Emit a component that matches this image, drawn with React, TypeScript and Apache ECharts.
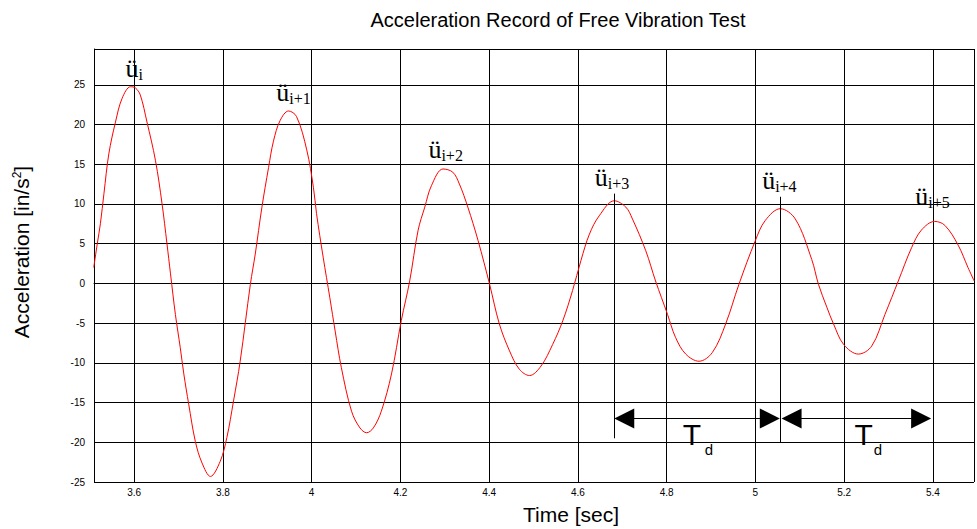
import React, { useEffect, useRef } from 'react';
import * as echarts from 'echarts';

const timeSec = [
  3.509, 3.517, 3.524, 3.532, 3.543, 3.558, 3.573, 3.592, 3.603, 3.614, 3.629, 3.648, 3.663, 3.674, 3.682,
  3.693, 3.704, 3.712, 3.723, 3.738, 3.753, 3.772, 3.794, 3.809, 3.824, 3.839, 3.862, 3.873, 3.888, 3.903,
  3.914, 3.929, 3.948, 3.966, 3.989, 4.004, 4.011, 4.026, 4.041, 4.053, 4.067, 4.09, 4.109, 4.124, 4.139,
  4.157, 4.18, 4.202, 4.221, 4.24, 4.255, 4.27, 4.296, 4.318, 4.333, 4.352, 4.375, 4.401, 4.423, 4.446,
  4.468, 4.491, 4.517, 4.543, 4.566, 4.588, 4.607, 4.626, 4.648, 4.682, 4.708, 4.723, 4.753, 4.775, 4.802,
  4.82, 4.843, 4.873, 4.903, 4.933, 4.963, 5.0, 5.022, 5.056, 5.09, 5.127, 5.142, 5.161, 5.176, 5.199,
  5.232, 5.262, 5.292, 5.322, 5.352, 5.374, 5.404, 5.427, 5.457, 5.479, 5.493,
];
const accel = [
  2.0, 5.0, 7.5, 11.3, 16.3, 20.3, 23.3, 24.75, 24.6, 23.7, 20.3, 15.5, 10.0, 5.0, 1.2,
  -3.9, -8.1, -11.4, -15.2, -19.9, -22.6, -24.3, -22.4, -19.4, -14.8, -9.8, -0.1, 3.7, 9.6, 14.6,
  17.9, 20.5, 21.7, 21.0, 16.8, 12.1, 8.8, 3.3, -1.8, -6.0, -10.6, -16.1, -18.2, -18.8, -18.2,
  -16.1, -11.4, -4.7, 0.3, 6.7, 9.6, 12.3, 14.4, 14.0, 12.5, 9.6, 5.4, -0.1, -5.1, -8.5,
  -10.8, -11.6, -10.4, -7.7, -4.7, -0.9, 2.9, 6.2, 8.5, 10.4, 9.6, 8.1, 4.1, 0.3, -3.9,
  -6.8, -8.9, -9.8, -8.7, -5.1, -0.1, 5.4, 7.9, 9.4, 8.1, 3.0, -0.1, -3.0, -5.1, -7.7,
  -8.9, -7.9, -3.9, 0.3, 4.5, 6.7, 7.8, 7.3, 4.8, 2.0, 0.3,
];

// Axis ranges
const xMin = 3.5096;
const xMax = 5.4926;
const yMin = -25;
const yMax = 29.5;
const yInterval = 5;

// Peak labels (ü with subscript), anchored at label centre / baseline in data units
const peakSubs = ['i', 'i+1', 'i+2', 'i+3', 'i+4', 'i+5'];
const peakLabelT = [3.6, 3.959, 4.302, 4.677, 5.054, 5.399];
const peakLabelV = [25.7, 22.6, 15.5, 12.0, 11.6, 9.6];

// Vertical marker lines through chosen peaks
const markerT = [4.682, 5.055];
const markerTop = [11.3, 10.9];
const markerBottom = [-19.5, -20.0];

// Damped period arrows
const tdStart = [4.682, 5.059];
const tdEnd = [5.055, 5.396];
const tdLevel = -16.9;
const tdLabelT = [4.857, 5.244];
const tdLabelV = -19.0;
const tdSubT = [4.895, 5.276];
const tdSubV = -20.9;

const SANS = '"Liberation Sans", Arial, sans-serif';
const SERIF = '"Liberation Serif", "Times New Roman", serif';

export default function App() {
  const ref = useRef<HTMLDivElement>(null);
  useEffect(() => {
    if (!ref.current) return;
    const chart = echarts.init(ref.current, null, { renderer: 'svg' });
    const data = timeSec.map((t, i) => [t, accel[i]]);
    chart.setOption({
      animation: false,
      backgroundColor: '#ffffff',
      grid: { left: 94, right: -1, top: 49, bottom: 47 },
      xAxis: {
        type: 'value',
        min: xMin,
        max: xMax,
        splitNumber: 10,
        axisLine: { show: true, lineStyle: { color: '#000', width: 1 } },
        axisTick: { show: true, inside: true, length: 8, lineStyle: { color: '#000' } },
        splitLine: { show: true, lineStyle: { color: '#000', width: 1 } },
        axisLabel: {
          margin: 5,
          color: '#000',
          fontSize: 10,
          fontFamily: SANS,
          formatter: (v: number) => {
            const k = Math.round(v * 5);
            return Math.abs(v * 5 - k) < 1e-6 ? String(+(k / 5).toFixed(1)) : '';
          },
        },
      },
      yAxis: {
        type: 'value',
        min: yMin,
        max: yMax,
        interval: yInterval,
        axisLine: { show: true, lineStyle: { color: '#000', width: 1 } },
        axisTick: { show: true, inside: true, length: 8, lineStyle: { color: '#000' } },
        splitLine: { show: true, lineStyle: { color: '#000', width: 1 } },
        axisLabel: {
          margin: 9,
          color: '#000',
          fontSize: 10,
          fontFamily: SANS,
          formatter: (v: number) => (Math.abs(v % 5) < 1e-6 && v <= 25 ? String(v) : ''),
        },
      },
      series: [
        {
          type: 'line',
          data,
          showSymbol: false,
          smooth: 0.35,
          lineStyle: { color: '#ff0000', width: 1 },
        },
      ],
    });

    const px = (t: number, v: number) => chart.convertToPixel({ gridIndex: 0 }, [t, v]) as number[];
    const g: any[] = [];

    // vertical markers
    markerT.forEach((t, i) => {
      const a = px(t, markerTop[i]);
      const b = px(t, markerBottom[i]);
      const x = Math.round(a[0]) + 0.5;
      g.push({ type: 'line', shape: { x1: x, y1: a[1], x2: x, y2: b[1] }, style: { stroke: '#000', lineWidth: 1 }, z: 10 });
    });

    // arrows
    tdStart.forEach((t, i) => {
      const a = px(t, tdLevel);
      const b = px(tdEnd[i], tdLevel);
      const y = Math.round(a[1]) + 0.5;
      g.push({ type: 'line', shape: { x1: a[0] + 18, y1: y, x2: b[0] - 18, y2: y }, style: { stroke: '#000', lineWidth: 1 }, z: 10 });
      g.push({ type: 'polygon', shape: { points: [[a[0], y], [a[0] + 20, y - 10], [a[0] + 20, y + 10]] }, style: { fill: '#000' }, z: 10 });
      g.push({ type: 'polygon', shape: { points: [[b[0], y], [b[0] - 20, y - 10], [b[0] - 20, y + 10]] }, style: { fill: '#000' }, z: 10 });
      const tl = px(tdLabelT[i], tdLabelV);
      g.push({ type: 'text', x: tl[0], y: tl[1], style: { text: 'T', fontSize: 30, fontFamily: SANS, fill: '#000', align: 'center', verticalAlign: 'middle' }, z: 11 });
      const sl = px(tdSubT[i], tdSubV);
      g.push({ type: 'text', x: sl[0], y: sl[1], style: { text: 'd', fontSize: 15, fontFamily: SANS, fill: '#000', align: 'center', verticalAlign: 'middle' }, z: 11 });
    });

    // peak labels
    peakSubs.forEach((s, i) => {
      const p = px(peakLabelT[i], peakLabelV[i]);
      let subW = 0;
      for (const ch of s) subW += ch === 'i' ? 4.45 : ch === '+' ? 9.0 : 8.0;
      const mainW = 13;
      const left = p[0] - (mainW + subW) / 2;
      g.push({ type: 'text', x: left, y: p[1] - 11, style: { text: '\u00fc', fontSize: 26, fontFamily: SERIF, fill: '#000', align: 'left', verticalAlign: 'middle' }, z: 11 });
      g.push({ type: 'text', x: left + mainW, y: p[1] - 5, style: { text: s, fontSize: 16, fontFamily: SERIF, fill: '#000', align: 'left', verticalAlign: 'middle' }, z: 11 });
    });

    // titles
    g.push({ type: 'text', x: 558, y: 20, style: { text: 'Acceleration Record of Free Vibration Test', fontSize: 20, fontFamily: SANS, fill: '#000', align: 'center', verticalAlign: 'middle' } });
    g.push({ type: 'text', x: 571, y: 514, style: { text: 'Time [sec]', fontSize: 21, fontFamily: SANS, fill: '#000', align: 'center', verticalAlign: 'middle' } });
    g.push({
      type: 'text', x: 21, y: 252, rotation: Math.PI / 2,
      style: {
        text: 'Acceleration [in/s{sup|2}]', fontSize: 21, fontFamily: SANS, fill: '#000', align: 'center', verticalAlign: 'middle',
        rich: { sup: { fontSize: 12, fontFamily: SANS, verticalAlign: 'top', fill: '#000' } },
      },
    });

    chart.setOption({ graphic: g });
    return () => chart.dispose();
  }, []);
  return <div ref={ref} style={{ position: 'fixed', left: 0, top: 0, width: 977, height: 529, background: '#fff' }} />;
}
